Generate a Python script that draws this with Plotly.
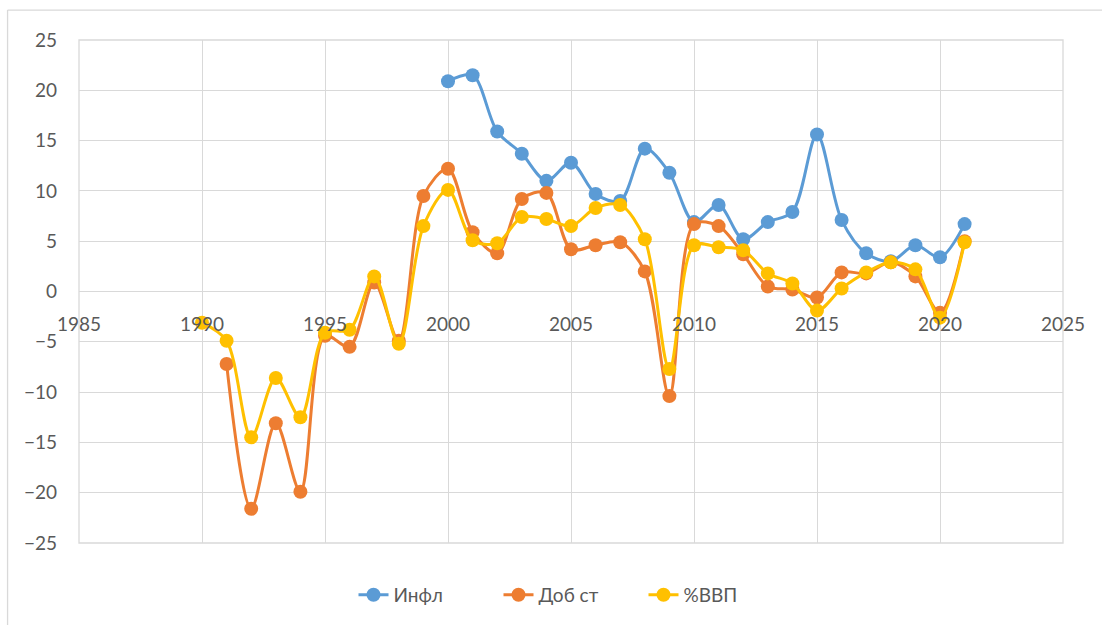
import plotly.graph_objects as go

years = list(range(1990, 2022))
infl = [None]*10 + [20.9, 21.5, 15.9, 13.7, 11.0, 12.8, 9.7, 9.0, 14.2, 11.8,
                    6.9, 8.6, 5.2, 6.9, 7.9, 15.6, 7.1, 3.8, 3.0, 4.6, 3.4, 6.7]
dob = [None, -7.2, -21.6, -13.1, -19.9, -4.4, -5.5, 0.9, -4.9, 9.5,
       12.2, 5.9, 3.8, 9.2, 9.8, 4.2, 4.6, 4.9, 2.0, -10.4,
       6.7, 6.5, 3.7, 0.5, 0.2, -0.6, 1.9, 1.8, 2.9, 1.5, -2.1, 5.0]
gdp = [-3.1, -4.9, -14.5, -8.6, -12.5, -4.1, -3.8, 1.5, -5.2, 6.5,
       10.1, 5.1, 4.8, 7.4, 7.2, 6.5, 8.3, 8.6, 5.2, -7.7,
       4.6, 4.4, 4.1, 1.8, 0.8, -1.9, 0.3, 1.9, 2.9, 2.2, -2.6, 4.9]
names = ["Инфл", "Доб ст", "%ВВП"]
colors = ["#5B9BD5", "#ED7D31", "#FFC000"]

FONT = "Lato, 'Noto Sans', sans-serif"
fig = go.Figure()
for name, vals, c in zip(names, [infl, dob, gdp], colors):
    fig.add_trace(go.Scatter(
        x=years, y=vals, name=name, mode="lines+markers",
        line=dict(color=c, width=3, shape="spline", smoothing=0.9),
        marker=dict(color=c, size=14),
        connectgaps=False,
    ))

fig.update_layout(
    width=1102, height=625,
    margin=dict(l=79, r=39, t=40, b=81),
    paper_bgcolor="white", plot_bgcolor="white",
    font=dict(family=FONT, size=19, color="#595959"),
    showlegend=True,
    legend=dict(orientation="h", x=0.5, xanchor="center", y=-0.101, yanchor="middle",
                font=dict(size=19, color="#595959"), entrywidth=100, entrywidthmode="pixels"),
    xaxis=dict(range=[1985, 2025], dtick=5, tick0=1985, showgrid=True,
               gridcolor="#D9D9D9", gridwidth=1.3, zeroline=False, showline=False,
               anchor="free", position=0.5, ticks="", ticklabelstandoff=19,
               automargin=False),
    yaxis=dict(range=[-25, 25], dtick=5, showgrid=True, gridcolor="#D9D9D9",
               gridwidth=1.3, zeroline=False, showline=False, ticks="",
               ticklabelstandoff=21, automargin=False),
    shapes=[
        dict(type="rect", xref="paper", yref="paper", x0=0, x1=1, y0=0, y1=1,
             line=dict(color="#D9D9D9", width=1.3), layer="below"),
        dict(type="line", xref="paper", yref="paper", x0=-0.0726, x1=1.1, y0=1.0595, y1=1.0595,
             line=dict(color="#D9D9D9", width=1.3)),
        dict(type="line", xref="paper", yref="paper", x0=-0.0726, x1=-0.0726, y0=1.0595, y1=-0.2,
             line=dict(color="#D9D9D9", width=1.3)),
    ],
)
fig.write_html("out.html", config={"displayModeBar": False},
               post_script="document.body.style.margin='0';document.body.style.overflow='hidden';")
